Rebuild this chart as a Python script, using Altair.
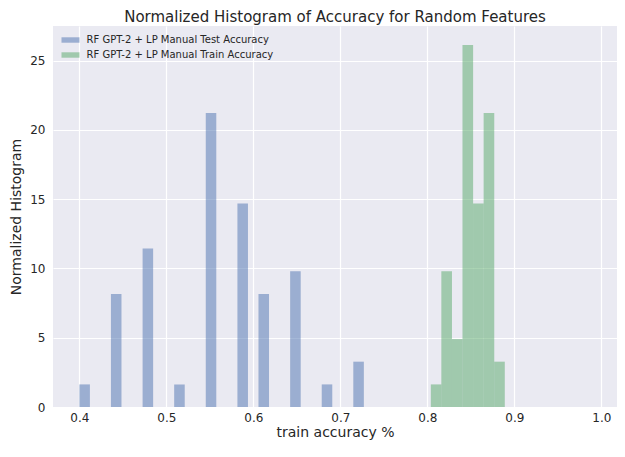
import altair as alt
import pandas as pd

# Test accuracy histogram (density-normalized)
test_left = [0.4000, 0.4363, 0.4727, 0.5090, 0.5453, 0.5817, 0.6059, 0.6423, 0.6786, 0.7149]
test_right = [0.4121, 0.4484, 0.4848, 0.5211, 0.5574, 0.5938, 0.6180, 0.6544, 0.6907, 0.7270]
test_density = [1.63, 8.16, 11.43, 1.63, 21.22, 14.69, 8.16, 9.80, 1.63, 3.27]

# Train accuracy histogram (density-normalized)
train_left = [0.8040, 0.8161, 0.8283, 0.8404, 0.8526, 0.8647, 0.8769]
train_right = [0.8161, 0.8283, 0.8404, 0.8526, 0.8647, 0.8769, 0.8890]
train_density = [1.63, 9.80, 4.90, 26.12, 14.69, 21.22, 3.27]

series_names = ["RF GPT-2 + LP Manual Test Accuracy", "RF GPT-2 + LP Manual Train Accuracy"]
series_colors = ["#4C72B0", "#55A868"]

x_ticks = [0.4, 0.5, 0.6, 0.7, 0.8, 0.9, 1.0]
y_ticks = [0, 5, 10, 15, 20, 25]

df = pd.concat([
    pd.DataFrame({"left": test_left, "right": test_right, "density": test_density,
                  "series": series_names[0]}),
    pd.DataFrame({"left": train_left, "right": train_right, "density": train_density,
                  "series": series_names[1]}),
])

FONT = "DejaVu Sans"
TXT = "#262626"

chart = alt.Chart(df).mark_bar(opacity=0.5, strokeWidth=0).encode(
    x=alt.X("left:Q",
            scale=alt.Scale(domain=[0.3697, 1.018], nice=False, zero=False),
            axis=alt.Axis(values=x_ticks, format=".1f", title="train accuracy %")),
    x2="right:Q",
    y=alt.Y("density:Q",
            scale=alt.Scale(domain=[0, 27.49], nice=False),
            axis=alt.Axis(values=y_ticks, format="d", title="Normalized Histogram")),
    y2=alt.datum(0),
    color=alt.Color("series:N",
                    scale=alt.Scale(domain=series_names, range=series_colors),
                    legend=alt.Legend(
                        title=None, orient="none", legendX=11.5, legendY=8, padding=0,
                        symbolType="M-1.5,-0.45L1.5,-0.45L1.5,0.45L-1.5,0.45Z",
                        symbolSize=144, symbolOpacity=0.5, symbolStrokeWidth=0,
                        labelFontSize=10, labelFont=FONT, labelColor=TXT,
                        labelLimit=400, labelOffset=10, rowPadding=4)),
).properties(
    width=564,
    height=381,
    title=alt.TitleParams("Normalized Histogram of Accuracy for Random Features",
                          fontSize=15, font=FONT, fontWeight="normal", color=TXT, offset=1),
    autosize=alt.AutoSizeParams(type="none"),
    padding={"left": 45, "top": 18, "right": 0, "bottom": 34},
).configure_view(
    fill="#EAEAF2", stroke=None
).configure_axis(
    domain=False, ticks=False, grid=True, gridColor="white", gridWidth=1.2,
    labelFont=FONT, labelFontSize=12, labelColor=TXT,
    titleFont=FONT, titleFontSize=14, titleColor=TXT, titleFontWeight="normal",
    labelPadding=8,
).configure_axisY(
    titlePadding=6
).configure_axisX(
    titlePadding=2, labelPadding=5
)

chart.save("out.html", embed_options={"renderer": "svg", "actions": False})
